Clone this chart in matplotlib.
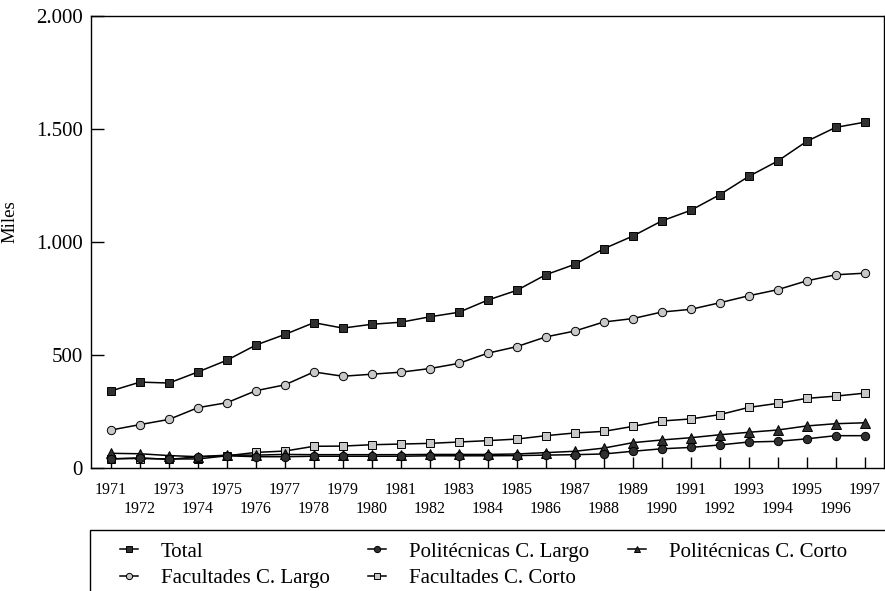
import matplotlib
matplotlib.use("Agg")
import matplotlib.pyplot as plt
from matplotlib.patches import Rectangle

plt.rcParams['font.family'] = ['Liberation Serif', 'DejaVu Serif']

# alumnos matriculados (miles), 1971-1997
years = list(range(1971, 1998))

total = [341, 380, 376, 425, 477, 544, 591, 643, 619, 636, 645, 669, 689, 743,
         786, 855, 901, 970, 1026, 1093, 1140, 1209, 1290, 1358, 1445, 1507, 1530]
fac_largo = [168, 192, 215, 267, 289, 342, 368, 425, 406, 415, 424, 440, 463, 508,
             537, 580, 606, 646, 661, 690, 702, 731, 762, 789, 828, 855, 862]
fac_corto = [41, 42, 40, 40, 54, 69, 75, 96, 97, 103, 106, 109, 115, 121,
             128, 143, 155, 162, 184, 208, 217, 236, 268, 286, 308, 318, 331]
pol_corto = [65, 63, 55, 50, 57, 57, 60, 59, 59, 59, 59, 60, 60, 60,
             62, 68, 74, 88, 112, 124, 134, 147, 158, 168, 186, 196, 200]
pol_largo = [40, 45, 38, 50, 54, 50, 50, 52, 52, 52, 52, 54, 54, 54,
             55, 57, 59, 62, 74, 85, 91, 102, 115, 118, 129, 143, 143]

y_ticks = [0, 500, 1000, 1500, 2000]
y_labels = ["0", "500", "1.000", "1.500", "2.000"]

dark = '#303030'
light = '#c8c8c8'

fig = plt.figure(figsize=(8.85, 5.91), dpi=100)
ax = fig.add_axes([91 / 885, 1 - 468 / 591, 793 / 885, 452 / 591])

l_total, = ax.plot(years, total, color='black', lw=1.1, marker='s', ms=5.5,
                   mfc=dark, mec='black', mew=0.7, label='Total')
l_fl, = ax.plot(years, fac_largo, color='black', lw=1.1, marker='o', ms=6,
                mfc=light, mec='black', mew=0.7, label='Facultades C. Largo')
l_fc, = ax.plot(years, fac_corto, color='black', lw=1.1, marker='s', ms=5.5,
                mfc=light, mec='black', mew=0.7, label='Facultades C. Corto')
l_pc, = ax.plot(years, pol_corto, color='black', lw=1.1, marker='^', ms=6.5,
                mfc=dark, mec='black', mew=0.7, label='Politécnicas C. Corto')
l_pl, = ax.plot(years, pol_largo, color='black', lw=1.1, marker='o', ms=6,
                mfc=dark, mec='black', mew=0.7, label='Politécnicas C. Largo')

ax.set_xlim(1970.31, 1997.67)
ax.set_ylim(0, 2000)
ax.set_yticks(y_ticks, y_labels)

odd = [y for y in years if y % 2 == 1]
even = [y for y in years if y % 2 == 0]
ax.set_xticks(odd, [str(y) for y in odd])
ax.set_xticks(even, [str(y) for y in even], minor=True)

ax.tick_params(axis='y', direction='in', length=9, width=1.0, labelsize=15, pad=6)
ax.tick_params(axis='x', which='major', direction='in', length=8, width=1.0,
               labelsize=11.5, pad=9.8)
ax.tick_params(axis='x', which='minor', direction='in', length=8, width=1.0,
               labelsize=11.5, pad=23.5)

for s in ax.spines.values():
    s.set_linewidth(1.0)

ax.set_ylabel('Miles', fontsize=13.5)
ax.yaxis.set_label_coords(-0.092, 0.544)

# caja de la leyenda (cortada por el borde de la imagen)
fig.add_artist(Rectangle((90 / 885, -0.1), 1.0, 0.1 + 1 - 530 / 591,
                         transform=fig.transFigure, fill=False,
                         edgecolor='black', lw=1.0))

fig.legend([l_total, l_fl, l_pl, l_fc, l_pc],
           ['Total', 'Facultades C. Largo', 'Politécnicas C. Largo',
            'Facultades C. Corto', 'Politécnicas C. Corto'],
           ncol=3, loc='upper left', bbox_to_anchor=(120 / 885, 1 - 542 / 591),
           frameon=False, fontsize=15, borderpad=0, borderaxespad=0,
           handlelength=0.86, handletextpad=1.1, columnspacing=1.85,
           labelspacing=0.33, markerscale=0.75)

fig.savefig('out.png', dpi=100)
